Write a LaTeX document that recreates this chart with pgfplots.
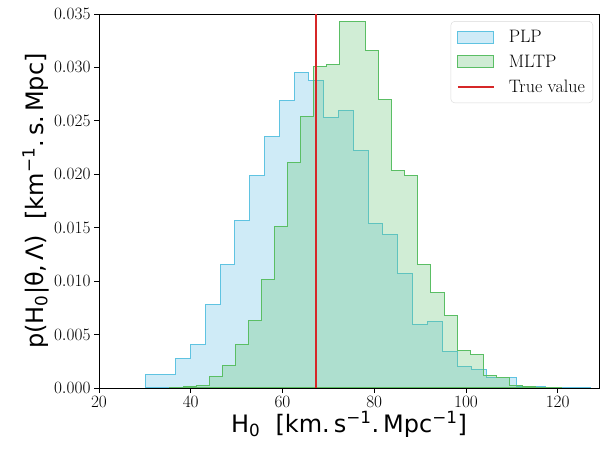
\documentclass[border=0pt]{standalone}
\usepackage{fontspec}
\usepackage{pgfplots}
\pgfplotsset{compat=1.18}
\newfontfamily\dejavu{DejaVu Sans}
\definecolor{plpfill}{RGB}{135,206,235}
\definecolor{plpedge}{RGB}{95,195,225}
\definecolor{mltpfill}{RGB}{98,195,115}
\definecolor{mltpedge}{RGB}{90,190,100}
\definecolor{truered}{RGB}{214,39,40}
\pgfplotsset{
  histleg/.style={legend image code/.code={\draw[##1, sharp corners] (0pt,-6pt) rectangle (36pt,6pt);}},
  lineleg/.style={legend image code/.code={\draw[##1, sharp corners] (0pt,0pt) -- (36pt,0pt);}},
}
\begin{document}
\begin{tikzpicture}
\useasboundingbox (-99pt,-64pt) rectangle (501pt,388pt);
\begin{axis}[
  scale only axis, width=500pt, height=374pt,
  xmin=20, xmax=129, ymin=0, ymax=0.035,
  xtick={20,40,60,80,100,120},
  ytick={0,0.005,0.01,0.015,0.02,0.025,0.03,0.035},
  yticklabel style={/pgf/number format/fixed, /pgf/number format/fixed zerofill, /pgf/number format/precision=3},
  scaled y ticks=false,
  tick label style={font=\fontsize{19}{22}\selectfont},
  xtick pos=bottom, ytick pos=left, tick align=outside,
  major tick length=5pt,
  axis line style={black, line width=0.8pt},
  every tick/.style={black, line width=0.8pt},
  xlabel={\dejavu H\textsubscript{0}\ \ [km.\,s\textsuperscript{−1}.\,Mpc\textsuperscript{−1}]},
  ylabel={\dejavu p(H\textsubscript{0}|θ,\,Λ)\ \ [km\textsuperscript{−1}.\,s.\,Mpc]},
  label style={font=\fontsize{24}{27}\selectfont},
  xlabel style={yshift=3pt},
  ylabel style={yshift=-2pt},
  legend style={at={(0.988,0.981)}, anchor=north east, draw=black!15, rounded corners=4pt,
    font=\fontsize{18}{21}\selectfont, inner xsep=6pt, inner ysep=7pt, row sep=7pt, column sep=12pt},
  legend cell align=left,
]
\addplot[const plot mark left, fill=plpfill, fill opacity=0.4, draw=plpedge, line width=1pt, histleg]
coordinates {
(30.24,0) (30.24,0.00128) (33.47,0.00128) (36.70,0.00274) (39.93,0.00409) (43.16,0.00777)
(46.39,0.01157) (49.61,0.01566) (52.84,0.01990) (56.07,0.02358) (59.30,0.02692)
(62.53,0.02951) (65.76,0.02879) (68.99,0.02536) (72.22,0.02595) (75.45,0.02227)
(78.68,0.01535) (81.90,0.01438) (85.13,0.01067) (88.36,0.00590) (91.59,0.00618)
(94.82,0.00346) (98.05,0.00197) (101.28,0.00171) (104.51,0.00096) (107.74,0.00094)
(110.97,0.00016) (114.19,0.00016) (117.42,0.00005) (120.65,0.00005) (123.88,0.00005)
(127.11,0.00005) (127.11,0)
} \closedcycle;
\addlegendentry{PLP}
\addplot[const plot mark left, fill=mltpfill, fill opacity=0.3, draw=mltpedge, line width=1pt, histleg]
coordinates {
(35.47,0) (35.47,0.00005) (38.32,0.00015) (41.16,0.00022) (44.01,0.00109) (46.85,0.00215)
(49.70,0.00405) (52.54,0.00636) (55.39,0.01017) (58.23,0.01516) (61.08,0.02106)
(63.92,0.02542) (66.77,0.03007) (69.61,0.03029) (72.46,0.03434) (75.30,0.03428)
(78.15,0.03163) (80.99,0.02701) (83.84,0.02040) (86.68,0.01984) (89.53,0.01160)
(92.37,0.00895) (95.22,0.00677) (98.06,0.00353) (100.91,0.00318) (103.75,0.00114)
(106.60,0.00100) (109.44,0.00019) (112.29,0.00017) (115.13,0.00008) (117.98,0.00005)
(120.82,0.00005) (120.82,0)
} \closedcycle;
\addlegendentry{MLTP}
\addplot[truered, line width=2pt, lineleg]
coordinates {(67.4,0) (67.4,0.035)};
\addlegendentry{True value}
\end{axis}
\end{tikzpicture}
\end{document}
